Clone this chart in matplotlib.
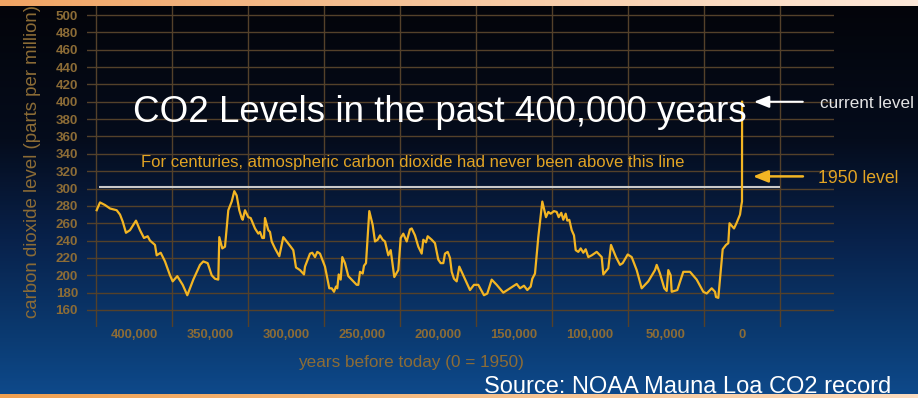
""" Vostok ice core CO2 record with the modern jump,
    dark slide style with gold curve and annotations
"""

import numpy as np
import matplotlib
matplotlib.use('Agg')
import matplotlib.pyplot as plt
from matplotlib.colors import LinearSegmentedColormap

plt.rcParams['font.family'] = ['Liberation Sans', 'DejaVu Sans']

# years before 1950 and CO2 in ppm
years = [424550, 422370, 419080, 415790, 411390, 409210, 407440, 405270, 402640, 398690,
         396060, 393430, 391000, 389480, 386190, 385070, 382440, 379610, 376320, 374540,
         371520, 367960, 364940, 360990, 356580, 354410, 351520, 348890, 346710, 344540,
         343880, 341910, 340130, 337960, 335720, 334010, 332440, 330730, 329150, 328490,
         326980, 324810, 323230, 320400, 318230, 317110, 315600, 314480, 313820, 311650,
         310530, 309410, 307240, 304410, 301780, 299540, 296910, 295200, 293420, 290790,
         288160, 287500, 284210, 282700, 280920, 279410, 277640, 274340, 271520, 269940,
         268420, 267110, 266250, 265330, 264020, 262960, 261190, 259010, 256780, 253490,
         252440, 251320, 249540, 248690, 247370, 245200, 242970, 241450, 239670, 238160,
         236380, 234870, 232700, 231120, 228750, 226120, 224540, 222830, 220590, 218420,
         217310, 215130, 212960, 210730, 209670, 207900, 206780, 204150, 201980, 199800,
         198230, 196510, 195400, 193620, 192110, 190990, 189480, 187700, 185990, 183360,
         178950, 176320, 173490, 169740, 167570, 164670, 161390, 157040, 152630, 148230,
         146050, 143420, 141250, 139010, 137960, 136190, 134010, 131380, 128950, 127440,
         125860, 123690, 121910, 120590, 118880, 117570, 115990, 114940, 113620, 112040,
         110530, 109410, 107700, 106120, 104410, 102830, 101120, 98880, 95590, 92300,
         91250, 87960, 86180, 82900, 80260, 78490, 75200, 72570, 69280, 65990,
         61650, 57240, 56120, 53950, 51120, 49540, 48490, 46910, 46250, 42570,
         38620, 34210, 29800, 25460, 23220, 19930, 17760, 17110, 15590, 12700,
         10530, 9010, 8220, 5260, 3620, 1300, 500, 0, -30, -65]
co2 = [275, 284, 281, 277, 275, 270, 262, 249, 252, 263,
       252, 243, 245, 240, 235, 223, 226, 216, 200, 193,
       199, 189, 177, 195, 212, 216, 214, 200, 196, 195,
       244, 231, 233, 275, 285, 297, 292, 275, 266, 264,
       275, 267, 266, 254, 248, 250, 243, 243, 266, 252,
       250, 239, 231, 222, 244, 239, 233, 229, 209, 206,
       201, 210, 225, 226, 221, 227, 225, 210, 185, 185,
       181, 187, 185, 201, 195, 221, 214, 199, 195, 189,
       189, 204, 202, 211, 214, 274, 258, 239, 241, 246,
       241, 239, 223, 229, 198, 206, 243, 248, 239, 253,
       254, 246, 233, 225, 241, 238, 245, 241, 237, 218,
       214, 214, 225, 227, 220, 204, 196, 193, 210, 200,
       183, 189, 189, 177, 179, 195, 189, 180, 185, 190,
       185, 188, 183, 187, 196, 202, 244, 285, 267, 273,
       271, 274, 273, 267, 272, 264, 271, 263, 264, 252,
       246, 229, 227, 231, 226, 230, 221, 223, 227, 221,
       201, 208, 235, 221, 212, 214, 224, 221, 206, 185,
       193, 206, 212, 202, 185, 182, 206, 200, 181, 183,
       204, 204, 195, 181, 179, 185, 181, 175, 174, 230,
       235, 237, 260, 254, 260, 270, 280, 285, 315, 400]

year_ticks = list(range(400000, -1, -50000))
year_grid = list(range(425000, -25001, -50000))
ppm_ticks = list(range(160, 501, 20))

old_max = 302            # "never been above this line"
old_max_span = (423000, -25000)
current_level = 400
level_1950 = 314

GOLD = '#f3b523'
DIM = '#8c6c36'
GRID = '#54412a'

W, H = 918, 398
fig = plt.figure(figsize=(W / 100, H / 100), dpi=100)

# background: dark-to-blue gradient plus orange bars
bg = fig.add_axes([0, 0, 1, 1])
bg.set_xlim(0, W)
bg.set_ylim(H, 0)
bg.axis('off')
sky = LinearSegmentedColormap.from_list(
    'sky', [(0, '#030409'), (0.35, '#050c1c'), (0.6, '#08214a'),
            (0.85, '#0b3b72'), (1, '#0e4a8c')])
bg.imshow(np.linspace(0, 1, 256).reshape(-1, 1), cmap=sky, aspect='auto',
          extent=(0, W, H, 0), zorder=0)
bar_top = LinearSegmentedColormap.from_list('bt', ['#f0a464', '#fde9da'])
bar_bot = LinearSegmentedColormap.from_list('bb', ['#f0a050', '#fbdcc0'])
ramp = np.linspace(0, 1, 256).reshape(1, -1)
bg.imshow(ramp, cmap=bar_top, aspect='auto', extent=(0, W, 6, 0), zorder=3)
bg.imshow(ramp, cmap=bar_bot, aspect='auto', extent=(0, W, H, 394.5), zorder=3)
bg.text(484, 393, 'Source: NOAA Mauna Loa CO2 record', color='white',
        fontsize=17, va='baseline', ha='left', zorder=2)

# main chart
ax = fig.add_axes([87 / W, 1 - 327 / H, (834 - 87) / W, (327 - 6) / H])
ax.patch.set_alpha(0)
for s in ax.spines.values():
    s.set_visible(False)
ax.set_xlim(430920, -60530)
ax.set_ylim(140.4, 510.4)

ax.set_yticks(ppm_ticks)
ax.set_xticks(year_ticks)
ax.set_xticklabels([f'{v:,}' for v in year_ticks])
ax.set_xticks(year_grid, minor=True)
ax.grid(which='major', axis='y', color=GRID, lw=1)
ax.grid(which='minor', axis='x', color=GRID, lw=1)
ax.tick_params(which='both', length=0)
ax.tick_params(axis='y', pad=6.5, labelsize=9.6, labelcolor=DIM)
ax.tick_params(axis='x', pad=1.5, labelsize=9.4, labelcolor=DIM)
plt.setp(ax.get_xticklabels() + ax.get_yticklabels(), fontweight='bold')

ax.hlines(old_max, old_max_span[0], old_max_span[1], color='#c9c9c9', lw=1.5, zorder=3)
ax.plot(years, co2, color=GOLD, lw=1.6, zorder=4, solid_joinstyle='round')

ax.text(400660, 377, 'CO2 Levels in the past 400,000 years', color='white',
        fontsize=26.5, va='baseline', ha='left', zorder=5)
ax.text(395400, 324.8,
        'For centuries, atmospheric carbon dioxide had never been above this line',
        color='#e2a424', fontsize=12, va='baseline', ha='left', zorder=5)

# arrows to current and 1950 levels
ax.annotate('', xy=(-7900, current_level), xytext=(-40000, current_level),
            arrowprops=dict(arrowstyle='-|>,head_length=0.9,head_width=0.36',
                            mutation_scale=10, color='white', lw=1.5,
                            shrinkA=0, shrinkB=0), annotation_clip=False)
ax.annotate('', xy=(-7200, level_1950), xytext=(-40100, level_1950),
            arrowprops=dict(arrowstyle='-|>,head_length=0.9,head_width=0.36',
                            mutation_scale=10, color=GOLD, lw=1.8,
                            shrinkA=0, shrinkB=0), annotation_clip=False)
ax.text(-51300, current_level - 7, 'current level', color='#e4e4e4',
        fontsize=12.3, va='baseline', ha='left', clip_on=False)
ax.text(-50000, level_1950 - 7.3, '1950 level', color='#e2a424',
        fontsize=12.7, va='baseline', ha='left', clip_on=False)

fig.text(33 / W, 1 - 161 / H, 'carbon dioxide level (parts per million)',
         rotation=90, color=DIM, fontsize=13.4, ha='center', va='center')
fig.text(411 / W, 1 - 363 / H, 'years before today (0 = 1950)',
         color=DIM, fontsize=12.3, ha='center', va='center')

plt.savefig('out.png', dpi=100)
